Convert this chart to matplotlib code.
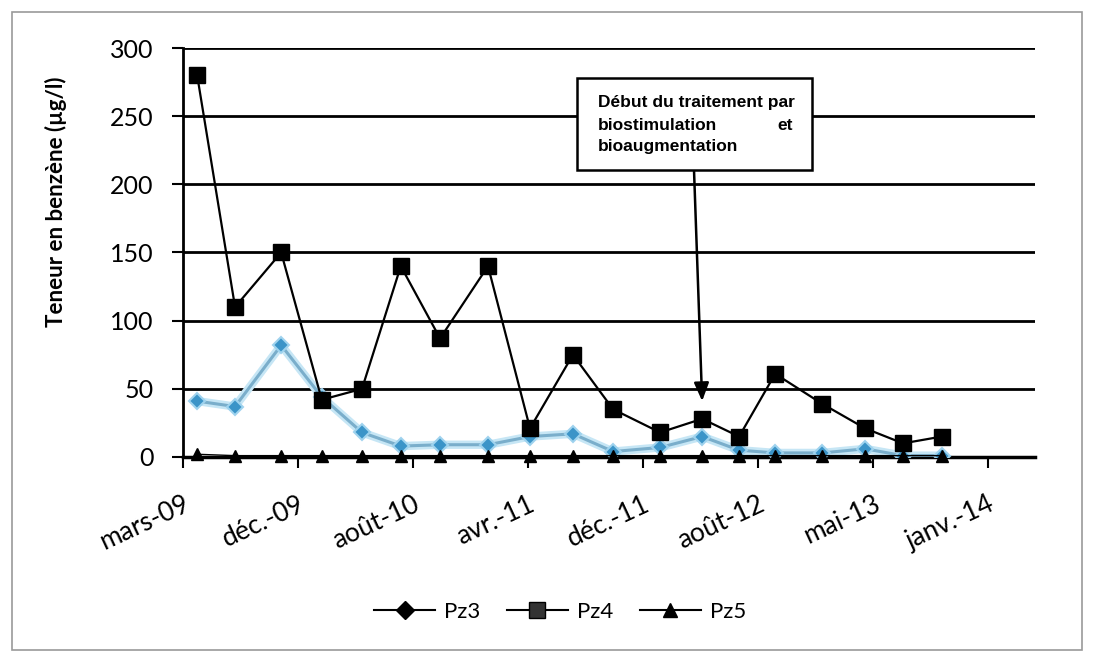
import matplotlib
matplotlib.use("Agg")
import matplotlib.pyplot as plt
from matplotlib.lines import Line2D
from matplotlib.patches import Rectangle
import datetime as dt

# ---- data ----
sample_dates = ["2009-04-15", "2009-07-07", "2009-10-16", "2010-01-13", "2010-04-11",
                "2010-07-05", "2010-09-29", "2011-01-12", "2011-04-14", "2011-07-17",
                "2011-10-13", "2012-01-24", "2012-04-25", "2012-07-15", "2012-10-02",
                "2013-01-13", "2013-04-17", "2013-07-09", "2013-10-02"]
pz3 = [41, 37, 82, 44, 18, 8, 9, 9, 15, 17, 4, 7, 15, 5, 3, 3, 6, 1, 1]
pz4 = [280, 110, 150, 42, 50, 140, 87, 140, 21, 75, 35, 18, 28, 15, 61, 39, 21, 10, 15]
pz5 = [2, 1, 1, 1, 1, 1, 1, 1, 1, 1, 1, 1, 1, 1, 1, 1, 1, 1, 1]
tick_labels = ["mars-09", "déc.-09", "août-10", "avr.-11", "déc.-11", "août-12", "mai-13", "janv.-14"]
y_ticks = [0, 50, 100, 150, 200, 250, 300]
annotation_lines = ["Début du traitement par", "biostimulation", "et", "bioaugmentation"]

W, H = 1093, 658
fig = plt.figure(figsize=(W / 100, H / 100), dpi=100)
fig.patch.set_facecolor("white")

# outer border
fig.add_artist(Rectangle((12 / W, 8 / H), (1082 - 12) / W, (646 - 8) / H,
                         transform=fig.transFigure, fill=False, ec="#9a9a9a", lw=1.2))

ax = fig.add_axes([183 / W, 1 - 457 / H, (1035 - 183) / W, (457 - 48) / H])

dates = [dt.datetime.strptime(d, "%Y-%m-%d") for d in sample_dates]
t0 = dt.datetime(2009, 3, 15)
step = dt.timedelta(days=252)
ticks = [t0 + k * step for k in range(len(tick_labels))]

ax.set_xlim(t0, t0 + dt.timedelta(days=1866))
ax.set_ylim(0, 300)

for s in ["top", "right"]:
    ax.spines[s].set_visible(False)
ax.spines["left"].set_linewidth(2)
ax.spines["bottom"].set_linewidth(2.5)
ax.set_yticks(y_ticks)
ax.yaxis.grid(True, color="black", lw=2)
ax.set_axisbelow(True)

ax.tick_params(axis="y", direction="out", length=8, width=1.5, pad=13)
ax.tick_params(axis="x", direction="out", length=8, width=1.5, pad=17)
ax.set_xticks(ticks)
ax.set_xticklabels(tick_labels, rotation=25, ha="right", rotation_mode="anchor",
                   fontsize=19, family="Lato")
for lab in ax.get_yticklabels():
    lab.set_fontsize(18)
    lab.set_family("Lato")

# series
ax.plot(dates, pz3, color="#c6e6f5", lw=6, zorder=2, solid_capstyle="round")
ax.plot(dates, pz3, color="#7aaecb", lw=2.2, zorder=3, marker="D", ms=8,
        mfc="#3b94c8", mec="#9fd3ee", mew=1.5)
ax.plot(dates, pz5, color="black", lw=1.0, marker="^", ms=8,
        mfc="black", mec="black", zorder=4, clip_on=False)
ax.plot(dates, pz4, color="black", lw=1.6, marker="s", ms=11, mfc="black", mec="black",
        zorder=5, clip_on=False)

ax.set_ylabel("Teneur en benzène (µg/l)", fontsize=16, fontweight="bold", family="Lato")
ax.yaxis.set_label_coords((67 - 183) / 852, (457 - 202) / 409)

# annotation box
bx0, by0, bx1, by1 = 577, 78, 812, 170
fig.add_artist(Rectangle((bx0 / W, 1 - by1 / H), (bx1 - bx0) / W, (by1 - by0) / H,
                         transform=fig.transFigure, fc="white", ec="black", lw=1.8, zorder=10))
tk = dict(fontsize=12.5, fontweight="bold", family=["Liberation Sans", "DejaVu Sans"],
          zorder=11, va="center")
fig.text(598 / W, 1 - 102 / H, annotation_lines[0], ha="left", **tk)
fig.text(598 / W, 1 - 125 / H, annotation_lines[1], ha="left", **tk)
fig.text(793 / W, 1 - 125 / H, annotation_lines[2], ha="right", **tk)
fig.text(598 / W, 1 - 147 / H, annotation_lines[3], ha="left", **tk)

arrow_x = dates[12]
ax.annotate("", xy=(arrow_x, 41), xycoords="data",
            xytext=(694, H - by1), textcoords="figure pixels",
            arrowprops=dict(arrowstyle="-|>,head_length=1.1,head_width=0.45",
                            color="black", lw=1.8, shrinkA=0, shrinkB=0), zorder=9)

# legend
handles = [Line2D([], [], color="black", lw=1.5, marker="D", ms=9, mfc="black"),
           Line2D([], [], color="black", lw=1.5, marker="s", ms=11, mfc="#333333"),
           Line2D([], [], color="black", lw=1.5, marker="^", ms=10, mfc="black")]
fig.legend(handles, ["Pz3", "Pz4", "Pz5"], loc="center", bbox_to_anchor=(560 / W, 1 - 612 / H),
           ncol=3, frameon=False, prop={"family": "Lato", "size": 16},
           handlelength=2.75, columnspacing=1.2, handletextpad=0.4)

fig.savefig("out.png", dpi=100)
